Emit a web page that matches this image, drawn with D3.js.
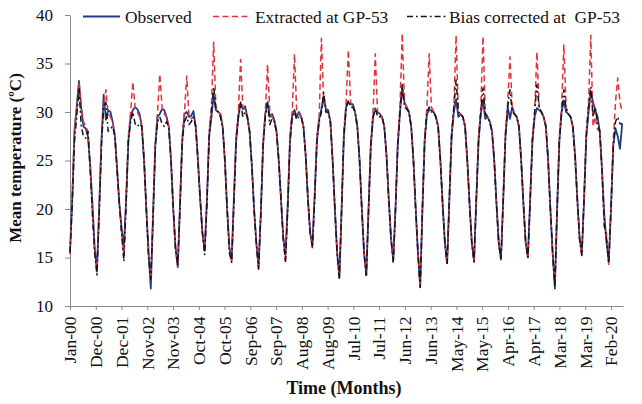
<!DOCTYPE html>
<html><head><meta charset="utf-8">
<script src="https://cdn.jsdelivr.net/npm/d3@7/dist/d3.min.js"></script>
<style>
body{margin:0;background:#fff}
text{font-family:"Liberation Serif","Times New Roman",serif;fill:#111}
</style>
</head><body>
<svg id="chart" width="642" height="404"></svg>
<script>
// ---------- data ----------
const tickLabels = ["Jan-00","Dec-00","Dec-01","Nov-02","Nov-03","Oct-04","Oct-05","Sep-06","Sep-07","Aug-08","Aug-09",
  "Jul-10","Jul-11","Jun-12","Jun-13","May-14","May-15","Apr-16","Apr-17","Mar-18","Mar-19","Feb-20"];
const yTicks = [10,15,20,25,30,35,40];
const seriesNames = ["Observed","Extracted at GP-53","Bias corrected at  GP-53"];

// monthly values, Jan-2000 .. Jul-2020 (one row per year)
const observed = [
15.5,21.0,28.0,30.5,33.2,30.4,28.5,28.3,27.5,24.5,20.5,16.0,
13.7,20.0,27.0,31.8,29.2,30.2,30.0,29.0,27.5,24.0,20.5,18.0,
16.1,21.0,27.0,29.5,30.2,30.5,30.3,29.8,28.5,25.0,20.0,15.5,
11.8,19.5,26.5,29.5,29.8,30.3,30.2,29.5,28.5,25.0,20.0,16.0,
14.0,20.5,27.0,29.8,30.0,29.5,29.6,30.1,28.5,25.0,21.0,17.5,
15.7,21.0,27.5,29.5,31.8,30.2,30.0,29.8,28.5,25.0,20.0,16.0,
14.7,21.0,27.0,29.5,30.9,30.3,30.6,29.5,28.0,24.5,20.0,16.5,
14.0,19.5,26.5,29.8,31.0,29.5,29.8,29.2,28.0,25.0,21.0,17.0,
15.4,20.5,27.0,29.8,30.2,29.5,30.0,29.5,28.5,25.5,21.0,17.5,
16.3,21.5,27.0,29.3,30.3,31.6,30.3,30.2,29.0,25.0,20.0,15.5,
12.9,20.0,27.5,30.5,31.0,30.8,30.8,30.0,28.5,25.0,20.0,15.5,
13.2,20.0,26.5,29.5,30.2,30.0,29.8,29.5,28.5,25.5,21.0,17.0,
14.7,20.0,26.5,30.0,32.4,31.0,30.5,30.0,28.5,25.0,20.0,15.5,
12.0,20.0,27.0,29.8,30.2,30.2,30.0,29.5,28.5,25.0,20.5,16.5,
14.4,21.0,27.5,30.0,31.3,29.5,29.8,29.5,28.5,25.0,20.5,16.5,
14.7,21.0,27.0,29.8,31.2,29.3,29.5,29.0,28.0,25.0,20.5,16.5,
14.9,21.0,27.5,30.5,29.3,30.5,29.8,29.5,28.5,25.0,20.5,16.5,
15.1,21.0,27.0,29.5,30.4,30.2,30.0,29.5,28.5,25.0,20.0,15.5,
11.8,20.0,27.0,30.0,31.2,30.0,29.8,29.5,28.5,25.5,21.0,17.0,
15.4,21.0,27.5,30.0,32.1,31.0,30.2,29.5,28.0,24.0,19.5,16.5,
14.6,20.0,26.5,28.3,27.5,26.2,28.8
];
const extracted = [
15.3,21.5,28.5,30.5,33.0,30.5,29.0,28.5,28.0,24.5,19.5,15.5,
13.5,20.5,27.0,30.5,32.3,29.8,29.5,29.0,27.5,24.0,20.5,17.5,
15.0,21.0,27.5,30.0,33.1,30.5,30.0,29.5,28.5,25.0,20.0,15.5,
13.0,19.5,27.0,30.0,33.9,30.5,29.8,29.5,28.5,25.0,20.0,16.0,
14.0,20.5,27.5,30.0,33.7,29.5,29.3,29.5,28.5,25.0,21.0,17.5,
15.7,21.0,28.0,30.5,37.2,30.5,30.0,29.8,28.5,25.0,20.0,16.0,
14.5,21.0,27.5,30.0,35.4,30.5,30.2,29.5,28.0,24.5,20.0,16.5,
14.0,19.5,27.0,30.0,34.9,30.0,29.5,29.0,28.0,25.0,21.0,17.0,
14.5,20.5,27.5,30.0,36.0,30.0,29.8,29.5,28.5,25.5,21.0,17.5,
16.0,21.5,27.5,29.5,37.6,31.0,30.0,30.0,29.0,25.0,20.0,15.5,
13.0,20.0,28.0,31.0,36.4,31.0,30.5,30.0,28.5,25.0,20.0,15.5,
13.5,20.0,27.0,30.0,36.0,30.0,29.5,29.5,28.5,25.5,21.0,17.0,
14.5,20.0,27.0,30.5,38.1,31.0,30.5,30.0,28.5,25.0,20.0,15.5,
11.8,20.0,27.5,30.5,36.0,30.5,30.0,29.5,28.5,25.0,20.5,16.5,
14.3,21.0,28.0,30.5,37.9,30.0,29.8,29.5,28.5,25.0,20.5,16.5,
14.5,21.0,27.5,30.5,37.8,30.0,29.5,29.0,28.0,25.0,20.5,16.5,
14.6,21.0,28.0,31.0,35.7,30.5,29.8,29.5,28.5,25.0,20.5,16.5,
14.8,21.0,27.5,30.0,36.2,30.5,30.0,29.5,28.5,25.0,20.0,15.5,
12.2,20.0,27.5,30.5,36.9,30.5,29.8,29.5,28.5,25.5,21.0,17.0,
15.2,21.0,28.0,31.0,37.9,28.5,29.5,28.2,28.0,24.0,18.0,17.5,
14.2,20.0,27.0,31.0,33.5,31.0,30.0
];
const biasCorrected = [
15.5,20.5,27.0,29.5,32.5,28.5,27.5,27.3,28.0,24.0,19.5,15.5,
13.2,19.5,26.5,30.5,31.0,28.0,28.3,28.5,27.5,24.0,20.5,17.5,
14.6,20.5,27.0,29.0,30.0,28.8,28.5,28.8,28.5,25.0,20.0,15.0,
12.8,19.0,26.5,29.0,29.5,28.8,28.5,29.0,28.5,25.0,20.0,16.0,
14.2,20.0,27.0,29.0,29.5,28.7,29.0,29.5,28.5,25.0,21.0,17.5,
15.3,20.5,27.5,30.0,32.6,30.3,30.0,29.5,28.5,25.0,20.0,15.5,
14.5,20.5,27.0,29.5,31.0,29.5,30.0,29.5,28.0,24.5,20.0,16.5,
13.8,19.5,26.5,29.5,31.0,28.7,29.3,29.0,28.0,25.0,21.0,17.0,
14.5,20.0,27.0,29.5,30.0,29.2,29.5,29.5,28.5,25.5,21.0,17.5,
16.0,21.0,27.0,29.0,30.0,32.0,30.0,30.0,29.0,25.0,20.0,15.5,
12.8,20.0,27.5,30.5,31.2,30.5,30.5,30.0,28.5,25.0,20.0,15.5,
13.0,20.0,26.5,29.5,30.5,29.5,29.5,29.5,28.5,25.5,21.0,17.0,
14.5,20.0,26.5,30.0,32.8,30.5,30.3,30.0,28.5,25.0,20.0,15.5,
11.9,20.0,27.0,30.0,30.5,30.0,30.0,29.5,28.5,25.0,20.5,16.5,
14.3,21.0,27.5,30.5,33.3,30.0,29.8,29.5,28.5,25.0,20.5,16.5,
14.6,21.0,27.0,30.0,32.5,29.8,29.5,29.0,28.0,25.0,20.5,16.5,
14.7,21.0,27.5,30.5,32.3,30.0,29.8,29.5,28.5,25.0,20.5,16.5,
15.0,21.0,27.0,30.0,32.8,30.5,30.0,29.5,28.5,25.0,20.0,15.5,
12.0,20.0,27.0,30.0,32.3,30.3,29.8,29.5,28.5,25.5,21.0,17.0,
15.2,21.0,27.5,30.5,32.6,29.5,30.5,28.8,28.0,24.0,18.5,17.0,
14.4,20.0,26.5,29.0,29.5,28.8,28.8
];

// ---------- chart ----------
const svg = d3.select("#chart");
const x = d3.scaleLinear().domain([0, 246.35]).range([70, 623]);
const y = d3.scaleLinear().domain([10, 40]).range([306, 15]);
const axisColor = "#8a8a8a";

// y axis
const gy = svg.append("g").attr("transform", "translate(70,0)")
  .call(d3.axisLeft(y).tickValues(yTicks).tickSize(5).tickSizeOuter(0).tickPadding(12));
gy.select(".domain").attr("stroke", axisColor);
gy.selectAll(".tick line").attr("stroke", axisColor);
gy.selectAll(".tick text").attr("font-size", 17).attr("font-family", "Liberation Serif").attr("fill", "#111");

// x axis
const tickVals = tickLabels.map((d, i) => i * 241 / 21);
const gx = svg.append("g").attr("transform", "translate(0,306)")
  .call(d3.axisBottom(x).tickValues(tickVals).tickFormat((d, i) => tickLabels[i]).tickSize(4).tickSizeOuter(0));
gx.select(".domain").attr("stroke", axisColor);
gx.selectAll(".tick line").attr("stroke", axisColor);
gx.selectAll(".tick text")
  .attr("font-size", 17.5).attr("font-family", "Liberation Serif").attr("fill", "#111")
  .attr("transform", "rotate(-90)")
  .attr("text-anchor", "end")
  .attr("x", -10.5).attr("y", 0).attr("dy", "0.33em");

// axis titles
svg.append("text").attr("transform", "translate(21,158) rotate(-90)")
  .attr("text-anchor", "middle").attr("font-weight", "bold").attr("font-size", 17)
  .text("Mean temperature (ºC)");
svg.append("text").attr("x", 344).attr("y", 394)
  .attr("text-anchor", "middle").attr("font-weight", "bold").attr("font-size", 18)
  .text("Time (Months)");

// series
const series = [
  {name: seriesNames[0], values: observed, color: "#1f3d8c", dash: null, width: 1.8},
  {name: seriesNames[1], values: extracted, color: "#e2323c", dash: "6,3.5", width: 1.5},
  {name: seriesNames[2], values: biasCorrected, color: "#141414", dash: "6,3,1.8,3", width: 1.5}
];
const line = d3.line().x((d, i) => x(i)).y(d => y(d)).curve(d3.curveLinear);
series.forEach(s => {
  svg.append("path").datum(s.values)
    .attr("fill", "none").attr("stroke", s.color).attr("stroke-width", s.width)
    .attr("stroke-dasharray", s.dash).attr("stroke-linejoin", "round")
    .attr("d", line);
});

// legend
const legendPos = [{x1: 83, x2: 120, tx: 125}, {x1: 213, x2: 250, tx: 255}, {x1: 407, x2: 446, tx: 449}];
series.forEach((s, i) => {
  const p = legendPos[i];
  svg.append("line").attr("x1", p.x1).attr("x2", p.x2).attr("y1", 16.5).attr("y2", 16.5)
    .attr("stroke", s.color).attr("stroke-width", s.width).attr("stroke-dasharray", s.dash);
  svg.append("text").attr("x", p.tx).attr("y", 22.5).attr("font-size", 17.4)
    .style("white-space", "pre").text(s.name);
});
</script>
</body></html>
